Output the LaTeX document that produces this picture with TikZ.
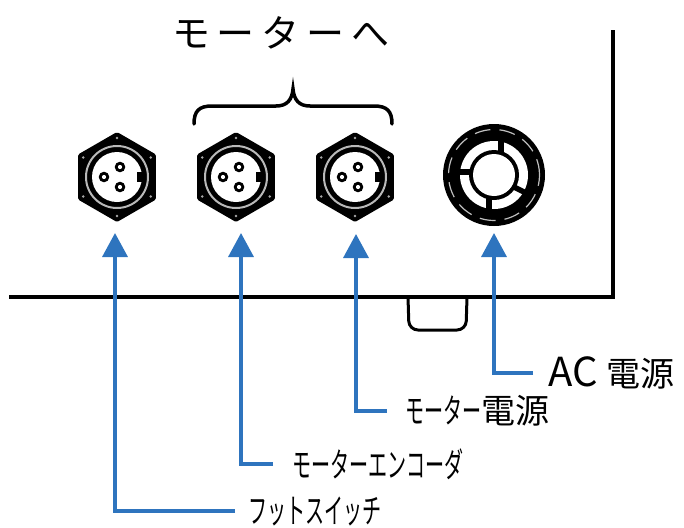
\documentclass[tikz,border=0pt]{standalone}
\usepackage{fontspec}
\setmainfont{Noto Sans CJK JP}
\usepackage{graphicx}
\usetikzlibrary{arrows.meta}
\definecolor{arrowblue}{RGB}{46,116,190}
\newcommand\kn[1]{\scalebox{0.56}[1]{#1}}
\tikzset{
  frameline/.style={line width=4.5pt, black},
  tabline/.style={line width=3pt, black, rounded corners=9pt},
  braceline/.style={line width=3.5pt, black, line cap=round},
  bluearrow/.style={line width=3.5pt, arrowblue, -{Triangle[width=25pt,length=24pt]}},
  lbl/.style={anchor=west, inner sep=0pt, font=\fontsize{34}{34}\selectfont},
  conn/.pic={
     \coordinate (-center) at (0,0);
     \fill[black, rounded corners=1.5pt] (90:45) -- (30:45) -- (-30:45) -- (-90:45) -- (-150:45) -- (150:45) -- cycle;
     \foreach \a in {30,90,...,330} \fill[gray!70] (\a:39) circle (1.4pt);
     \draw[gray!55, line width=2pt] (0,0) circle (31pt);
     \fill[white] (0,0) circle (25pt);
     \fill[black] (20,-5) rectangle (27,5);
     \foreach \p in {(-13,0),(3,-10),(3,10)} { \fill[black] \p circle (5.3pt); \fill[white] \p circle (2.1pt); }
  }
}
\begin{document}
\begin{tikzpicture}[x=1pt,y=-1pt]
\useasboundingbox (0,0) rectangle (684,527);

% title and brace
\node[inner sep=0pt, font=\fontsize{38}{38}\selectfont] (title) at (281,33)
  {モ\hspace{7pt}ー\hspace{7pt}タ\hspace{7pt}ー\hspace{7pt}へ};
\draw[braceline] (194,124) .. controls (194,111) and (199,106) .. (212,106) -- (276,106)
  .. controls (287,106) and (292,100) .. (293,89)
  .. controls (294,100) and (299,106) .. (310,106) -- (374,106)
  .. controls (387,106) and (392,111) .. (392,124);

% panel frame
\draw[tabline] (408,297) -- (409,330) -- (466,330) -- (467,297);
\draw[frameline] (9,297) -- (613,297) -- (613,30);

% connectors
\pic (c1) at (117,177) {conn};
\pic (c2) at (236,177) {conn};
\pic (c3) at (355,177) {conn};

% AC inlet
\begin{scope}[shift={(494,175)}]
  \coordinate (ac) at (0,0);
  \fill[black] (0,0) circle (51pt);
  \draw[gray!50, line width=1.2pt, dash pattern=on 16pt off 9pt] (0,0) circle (45.5pt);
  \fill[white] (0,0) circle (34pt);
  \draw[black, line width=5.5pt] (7,-22) -- (7,-36);
  \draw[black, line width=5.5pt] (-5,21) -- (-5,36);
  \draw[black, line width=5.5pt] (-22,-3) -- (-36,-3);
  \draw[black, line width=5.5pt] (20,12) -- (32,18);
  \fill[black] (0,0) circle (25pt);
  \fill[white] (0,0) circle (21pt);
\end{scope}

% arrow targets
\coordinate (t1) at (115,233);
\coordinate (t2) at (241,233);
\coordinate (t3) at (356,234);
\coordinate (t4) at (494,233);

% labels
\node[lbl] (lfs) at (248,511) {\kn{フットスイッチ}};
\node[lbl] (lenc) at (292,464) {\kn{モーターエンコーダ}};
\node[lbl] (lmp) at (405,411) {\kn{モーター}電源};
\node[lbl] (lac) at (548,373) {{\fontsize{40}{40}\selectfont AC}\hspace{9pt}{\fontsize{34}{34}\selectfont 電源}};

% arrows
\draw[bluearrow] ([xshift=-13pt]lfs.west) -| (t1);
\draw[bluearrow] ([xshift=-19pt]lenc.west) -| (t2);
\draw[bluearrow] ([xshift=-18pt]lmp.west) -| (t3);
\draw[bluearrow] ([xshift=-15pt]lac.west) -| (t4);
\end{tikzpicture}
\end{document}
